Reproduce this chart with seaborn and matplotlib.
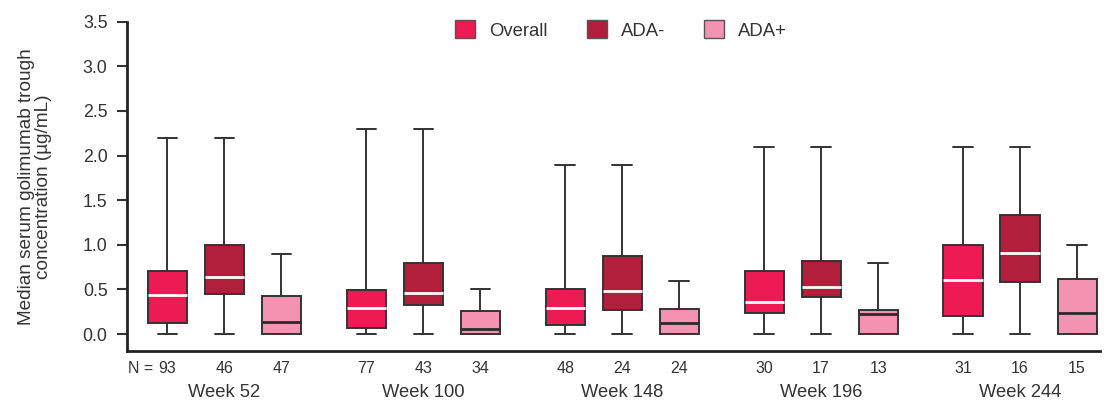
import numpy as np
import pandas as pd
import matplotlib
matplotlib.use("Agg")
import matplotlib.pyplot as plt
import matplotlib.transforms as mtransforms
import seaborn as sns

# ---- data -------------------------------------------------------------
weeks = ["Week 52", "Week 100", "Week 148", "Week 196", "Week 244"]
groups = ["Overall", "ADA-", "ADA+"]

# five-number summaries per group (min, Q1, median, Q3, max), one value per week
overall_min = [0.0, 0.0, 0.0, 0.0, 0.0]
overall_q1 = [0.12, 0.07, 0.10, 0.24, 0.20]
overall_med = [0.44, 0.29, 0.29, 0.36, 0.61]
overall_q3 = [0.71, 0.49, 0.51, 0.71, 1.00]
overall_max = [2.2, 2.3, 1.9, 2.1, 2.1]

neg_min = [0.0, 0.0, 0.0, 0.0, 0.0]
neg_q1 = [0.45, 0.32, 0.27, 0.41, 0.58]
neg_med = [0.64, 0.46, 0.48, 0.53, 0.91]
neg_q3 = [1.00, 0.80, 0.87, 0.82, 1.33]
neg_max = [2.2, 2.3, 1.9, 2.1, 2.1]

pos_min = [0.0, 0.0, 0.0, 0.0, 0.0]
pos_q1 = [0.0, 0.0, 0.0, 0.0, 0.0]
pos_med = [0.14, 0.06, 0.12, 0.23, 0.24]
pos_q3 = [0.43, 0.26, 0.28, 0.27, 0.62]
pos_max = [0.9, 0.5, 0.6, 0.8, 1.0]

n_overall = [93, 77, 48, 30, 31]
n_neg = [46, 43, 24, 17, 16]
n_pos = [47, 34, 24, 13, 15]

yticks = [0.0, 0.5, 1.0, 1.5, 2.0, 2.5, 3.0, 3.5]

# ---- long table: each summary becomes five points whose quartiles are the summary
summaries = {
    "Overall": (overall_min, overall_q1, overall_med, overall_q3, overall_max),
    "ADA-": (neg_min, neg_q1, neg_med, neg_q3, neg_max),
    "ADA+": (pos_min, pos_q1, pos_med, pos_q3, pos_max),
}
rows = []
for g in groups:
    cols = summaries[g]
    for i, w in enumerate(weeks):
        for v in (c[i] for c in cols):
            rows.append({"week": w, "group": g, "value": v})
df = pd.DataFrame(rows)
counts = {"Overall": n_overall, "ADA-": n_neg, "ADA+": n_pos}

# ---- style ------------------------------------------------------------
sns.set_theme(style="white")
plt.rcParams["font.family"] = ["Liberation Sans", "DejaVu Sans"]
text_col = "#333333"
palette = {"Overall": "#EC1B53", "ADA-": "#B21F3B", "ADA+": "#F393B1"}

fig = plt.figure(figsize=(11.04, 4.01), dpi=100)
ax = fig.add_axes([0.115, 0.1247, 0.881, 0.821])

sns.boxplot(
    data=df, x="week", y="value", hue="group",
    order=weeks, hue_order=groups, palette=palette,
    width=0.86, gap=0.315, whis=(0, 100), fliersize=0,
    linecolor="#333333", linewidth=1.4, saturation=1,
    ax=ax,
)

# median line colour per group
median_cols = {"Overall": "white", "ADA-": "white", "ADA+": "#2a2a2a"}
for cont, g in zip(ax.containers, groups):
    for m in cont.medians:
        m.set_color(median_cols[g])
        m.set_linewidth(2.0)

# ---- axes -------------------------------------------------------------
ax.set_ylim(-0.19, 3.5)
ax.set_xlim(-0.49, 4.4)
ax.set_yticks(yticks)
ax.set_yticklabels([f"{t:.1f}" for t in yticks], fontsize=12.8, color=text_col)
ax.tick_params(axis="y", left=True, length=7, width=1.5, color="#333333", pad=7)
ax.tick_params(axis="x", bottom=False, labelbottom=False)
ax.set_xlabel("")
for side in ("top", "right"):
    ax.spines[side].set_visible(False)
for side in ("left", "bottom"):
    ax.spines[side].set_color("#222222")
    ax.spines[side].set_linewidth(2.0)

ax.set_ylabel("Median serum golimumab trough\nconcentration (µg/mL)",
              fontsize=13.7, color=text_col, linespacing=1.0)
ax.yaxis.set_label_coords(-0.077, 0.5)

# ---- N counts and week labels ------------------------------------------
trans = mtransforms.blended_transform_factory(ax.transData, ax.transAxes)
for cont, g in zip(ax.containers, groups):
    for box, n in zip(cont.boxes, counts[g]):
        xs = box.get_path().vertices[:, 0]
        xc = (xs.min() + xs.max()) / 2
        ax.text(xc, -0.052, str(n), transform=trans, ha="center", va="center",
                fontsize=11.5, color=text_col)
ax.text(0.001, -0.052, "N =", transform=ax.transAxes, ha="left", va="center",
        fontsize=11.5, color=text_col)
for i, w in enumerate(weeks):
    ax.text(i, -0.125, w, transform=trans, ha="center", va="center",
            fontsize=13.2, color=text_col)

# ---- legend -----------------------------------------------------------
handles, labels = ax.get_legend_handles_labels()
for h in handles:
    h.set_edgecolor("#555555")
    h.set_linewidth(1.0)
ax.legend(handles, labels, loc="center", bbox_to_anchor=(0.508, 0.975),
          ncol=3, frameon=False, fontsize=13.3, handlelength=1.1,
          handleheight=1.1, handletextpad=0.75, columnspacing=2.1,
          labelcolor=text_col)

fig.savefig("out.png", dpi=100)
